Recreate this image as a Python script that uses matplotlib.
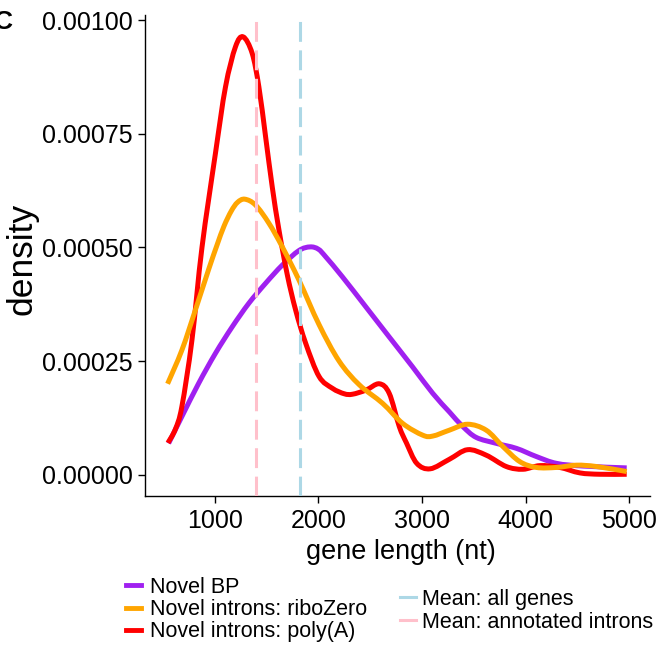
import numpy as np
import matplotlib
matplotlib.use('Agg')
import matplotlib.pyplot as plt
from matplotlib.lines import Line2D
from matplotlib.path import Path
from matplotlib.patches import PathPatch

plt.rcParams['font.family'] = ['Liberation Sans', 'DejaVu Sans']

# density curves (gene length in nt, density)
bp_len = [555, 683, 845, 1007, 1168, 1329, 1491, 1652, 1813, 1920, 2000, 2072, 2233,
          2459, 2684, 2910, 3104, 3265, 3394, 3524, 3717, 3911, 4104, 4298, 4556, 4976]
bp_dens = [0.000069, 0.000128, 0.000201, 0.000267, 0.000325, 0.000377, 0.000421, 0.000461,
           0.000493, 0.000501, 0.000496, 0.000479, 0.000435, 0.000369, 0.000303, 0.000237,
           0.000179, 0.000138, 0.000106, 0.000082, 0.000069, 0.000058, 0.000040, 0.000025,
           0.000019, 0.000015]

ribo_len = [545, 683, 813, 942, 1022, 1090, 1160, 1220, 1290, 1394, 1523, 1652, 1813, 2007,
            2200, 2394, 2620, 2813, 3007, 3104, 3265, 3440, 3620, 3781, 3943, 4104, 4298,
            4491, 4685, 4976]
ribo_dens = [0.000200, 0.000274, 0.000362, 0.000452, 0.000505, 0.000547, 0.000580, 0.000599,
             0.000606, 0.000593, 0.000553, 0.000501, 0.000428, 0.000330, 0.000250, 0.000198,
             0.000157, 0.000113, 0.000087, 0.000085, 0.000098, 0.000111, 0.000098, 0.000062,
             0.000029, 0.000016, 0.000016, 0.000021, 0.000018, 0.000007]

polya_len = [548, 620, 683, 780, 877, 1007, 1104, 1200, 1274, 1361, 1426, 1491, 1555, 1620,
             1700, 1781, 1878, 2007, 2136, 2250, 2329, 2459, 2588, 2684, 2781, 2850, 2950,
             3080, 3265, 3440, 3620, 3814, 3975, 4137, 4330, 4524, 4717, 4976]
polya_dens = [0.000070, 0.000100, 0.000150, 0.000296, 0.000500, 0.000707, 0.000853, 0.000941,
              0.000963, 0.000927, 0.000853, 0.000743, 0.000633, 0.000538, 0.000440, 0.000362,
              0.000289, 0.000216, 0.000190, 0.000178, 0.000177, 0.000186, 0.000200, 0.000179,
              0.000106, 0.000070, 0.000025, 0.000013, 0.000034, 0.000055, 0.000043, 0.000018,
              0.000012, 0.000020, 0.000016, 0.000004, 0.000001, 0.000001]

mean_all_genes = 1823
mean_annot_introns = 1394

series_labels = ['Novel BP', 'Novel introns: riboZero', 'Novel introns: poly(A)']
series_colors = ['#A020F0', '#FFA500', '#FF0000']
mean_labels = ['Mean: all genes', 'Mean: annotated introns']
mean_colors = ['#ADD8E6', '#FFC0CB']


def smooth_path(xs, ys):
    # catmull-rom style bezier through the read points, so the line is drawn curved
    p = np.column_stack([xs, ys]).astype(float)
    verts = [p[0]]
    codes = [Path.MOVETO]
    for i in range(len(p) - 1):
        p0 = p[i - 1] if i > 0 else p[i]
        p3 = p[i + 2] if i + 2 < len(p) else p[i + 1]
        c1 = p[i] + (p[i + 1] - p0) / 6.0
        c2 = p[i + 1] - (p3 - p[i]) / 6.0
        verts += [c1, c2, p[i + 1]]
        codes += [Path.CURVE4] * 3
    return Path(verts, codes)


fig = plt.figure(figsize=(6.63, 6.47), dpi=100)
ax = fig.add_axes([145 / 663, 1 - 496 / 647, 504.6 / 663, 481 / 647])

lw = 3.6
for xs, ys, c in [(bp_len, bp_dens, series_colors[0]),
                  (polya_len, polya_dens, series_colors[2]),
                  (ribo_len, ribo_dens, series_colors[1])]:
    ax.add_patch(PathPatch(smooth_path(xs, ys), facecolor='none', edgecolor=c, lw=lw,
                           joinstyle='round', capstyle='butt', zorder=2))

ax.axvline(mean_all_genes, color=mean_colors[0], lw=2.2, dashes=(6.5, 2.8), zorder=3)
ax.axvline(mean_annot_introns, color=mean_colors[1], lw=2.2, dashes=(6.5, 2.8), zorder=3)

ax.set_xlim(327, 5197)
ax.set_ylim(-0.0000468, 0.001011)
ax.set_xticks([1000, 2000, 3000, 4000, 5000])
ax.set_xticklabels(['1000', '2000', '3000', '4000', '5000'])
yt = [0.0, 0.00025, 0.0005, 0.00075, 0.001]
ax.set_yticks(yt)
ax.set_yticklabels(['%.5f' % v for v in yt])
ax.tick_params(axis='both', labelsize=18, length=5, width=1, colors='black', pad=4)

for s in ['top', 'right']:
    ax.spines[s].set_visible(False)
for s in ['left', 'bottom']:
    ax.spines[s].set_linewidth(1)

ax.set_ylabel('density', fontsize=25.5)
ax.yaxis.set_label_coords(-0.212, 0.493)
ax.set_xlabel('gene length (nt)', fontsize=19.5)
ax.xaxis.set_label_coords(0.507, -0.09)

fig.text(-6 / 663, 1 - 22 / 647, 'C', ha='left', va='center', fontsize=19, fontweight='bold')

h1 = [Line2D([], [], color=c, lw=3.5) for c in series_colors]
leg1 = fig.legend(h1, series_labels, loc='upper left', bbox_to_anchor=(126 / 663, 1 - 577 / 647),
                  frameon=False, fontsize=15.5, handlelength=0.7, handletextpad=0.42,
                  labelspacing=0.05, borderpad=0, borderaxespad=0)
h2 = [Line2D([], [], color=c, lw=2.2) for c in mean_colors]
leg2 = fig.legend(h2, mean_labels, loc='upper left', bbox_to_anchor=(400 / 663, 1 - 589 / 647),
                  frameon=False, fontsize=15.5, handlelength=0.75, handletextpad=0.26,
                  labelspacing=0.08, borderpad=0, borderaxespad=0)

plt.savefig('out.png', dpi=100)
